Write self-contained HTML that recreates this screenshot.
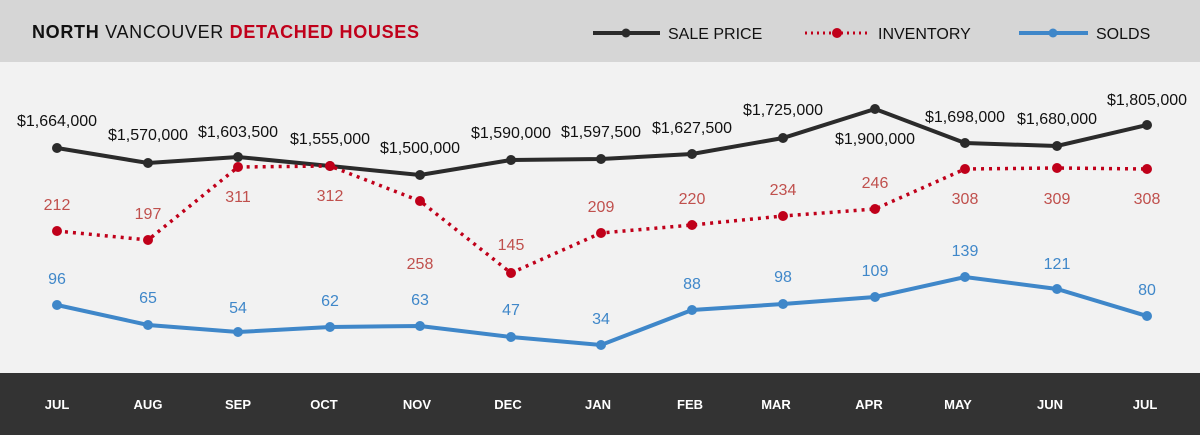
<html><head><style>body{margin:0}svg{display:block}text{font-family:"Liberation Sans",sans-serif}</style></head><body>
<svg width="1200" height="435" xmlns="http://www.w3.org/2000/svg">
<rect width="1200" height="435" fill="#f2f2f2"/>
<rect width="1200" height="62" fill="#d6d6d6"/>
<rect y="373" width="1200" height="62" fill="#333333"/>
<text x="32" y="38" font-size="18" fill="#111" textLength="387" lengthAdjust="spacing"><tspan font-weight="bold">NORTH</tspan> VANCOUVER  <tspan font-weight="bold" fill="#c0001a">DETACHED HOUSES</tspan></text>
<g font-size="16" fill="#111">
<line x1="593" y1="33" x2="660" y2="33" stroke="#2b2b2b" stroke-width="4"/><circle cx="626" cy="33" r="4.5" fill="#2b2b2b"/>
<text x="668" y="39">SALE PRICE</text>
<line x1="805" y1="33" x2="868" y2="33" stroke="#c0001a" stroke-width="3" stroke-dasharray="2,4"/><circle cx="837" cy="33" r="5" fill="#c0001a"/>
<text x="878" y="39">INVENTORY</text>
<line x1="1019" y1="33" x2="1088" y2="33" stroke="#3f87c9" stroke-width="4"/><circle cx="1053" cy="33" r="4.5" fill="#3f87c9"/>
<text x="1096" y="39">SOLDS</text>
</g>
<polyline fill="none" stroke="#2b2b2b" stroke-width="4" points="57,148 148,163 238,157 330,166 420,175 511,160 601,159 692,154 783,138 875,109 965,143 1057,146 1147,125"/>
<g fill="#2b2b2b"><circle cx="57" cy="148" r="5"/><circle cx="148" cy="163" r="5"/><circle cx="238" cy="157" r="5"/><circle cx="330" cy="166" r="5"/><circle cx="420" cy="175" r="5"/><circle cx="511" cy="160" r="5"/><circle cx="601" cy="159" r="5"/><circle cx="692" cy="154" r="5"/><circle cx="783" cy="138" r="5"/><circle cx="875" cy="109" r="5"/><circle cx="965" cy="143" r="5"/><circle cx="1057" cy="146" r="5"/><circle cx="1147" cy="125" r="5"/></g>
<polyline fill="none" stroke="#c0001a" stroke-width="3.5" stroke-dasharray="3,5" points="57,231 148,240 238,167 330,166 420,201 511,273 601,233 692,225 783,216 875,209 965,169 1057,168 1147,169"/>
<g fill="#c0001a"><circle cx="57" cy="231" r="5"/><circle cx="148" cy="240" r="5"/><circle cx="238" cy="167" r="5"/><circle cx="330" cy="166" r="5"/><circle cx="420" cy="201" r="5"/><circle cx="511" cy="273" r="5"/><circle cx="601" cy="233" r="5"/><circle cx="692" cy="225" r="5"/><circle cx="783" cy="216" r="5"/><circle cx="875" cy="209" r="5"/><circle cx="965" cy="169" r="5"/><circle cx="1057" cy="168" r="5"/><circle cx="1147" cy="169" r="5"/></g>
<polyline fill="none" stroke="#3f87c9" stroke-width="4" points="57,305 148,325 238,332 330,327 420,326 511,337 601,345 692,310 783,304 875,297 965,277 1057,289 1147,316"/>
<g fill="#3f87c9"><circle cx="57" cy="305" r="5"/><circle cx="148" cy="325" r="5"/><circle cx="238" cy="332" r="5"/><circle cx="330" cy="327" r="5"/><circle cx="420" cy="326" r="5"/><circle cx="511" cy="337" r="5"/><circle cx="601" cy="345" r="5"/><circle cx="692" cy="310" r="5"/><circle cx="783" cy="304" r="5"/><circle cx="875" cy="297" r="5"/><circle cx="965" cy="277" r="5"/><circle cx="1057" cy="289" r="5"/><circle cx="1147" cy="316" r="5"/></g>
<g font-size="16" fill="#111" text-anchor="middle">
<text x="57" y="126">$1,664,000</text><text x="148" y="140">$1,570,000</text><text x="238" y="137">$1,603,500</text><text x="330" y="144">$1,555,000</text><text x="420" y="153">$1,500,000</text><text x="511" y="138">$1,590,000</text><text x="601" y="137">$1,597,500</text><text x="692" y="133">$1,627,500</text><text x="783" y="115">$1,725,000</text><text x="875" y="144">$1,900,000</text><text x="965" y="122">$1,698,000</text><text x="1057" y="124">$1,680,000</text><text x="1147" y="105">$1,805,000</text>
</g>
<g font-size="16" fill="#c0504d" text-anchor="middle">
<text x="57" y="210">212</text><text x="148" y="219">197</text><text x="238" y="202">311</text><text x="330" y="201">312</text><text x="420" y="269">258</text><text x="511" y="250">145</text><text x="601" y="212">209</text><text x="692" y="204">220</text><text x="783" y="195">234</text><text x="875" y="188">246</text><text x="965" y="204">308</text><text x="1057" y="204">309</text><text x="1147" y="204">308</text>
</g>
<g font-size="16" fill="#3f87c9" text-anchor="middle">
<text x="57" y="284">96</text><text x="148" y="303">65</text><text x="238" y="313">54</text><text x="330" y="306">62</text><text x="420" y="305">63</text><text x="511" y="315">47</text><text x="601" y="324">34</text><text x="692" y="289">88</text><text x="783" y="282">98</text><text x="875" y="276">109</text><text x="965" y="256">139</text><text x="1057" y="269">121</text><text x="1147" y="295">80</text>
</g>
<g font-size="13" font-weight="bold" fill="#fff" text-anchor="middle">
<text x="57" y="409">JUL</text><text x="148" y="409">AUG</text><text x="238" y="409">SEP</text><text x="324" y="409">OCT</text><text x="417" y="409">NOV</text><text x="508" y="409">DEC</text><text x="598" y="409">JAN</text><text x="690" y="409">FEB</text><text x="776" y="409">MAR</text><text x="869" y="409">APR</text><text x="958" y="409">MAY</text><text x="1050" y="409">JUN</text><text x="1145" y="409">JUL</text>
</g>
</svg></body></html>
